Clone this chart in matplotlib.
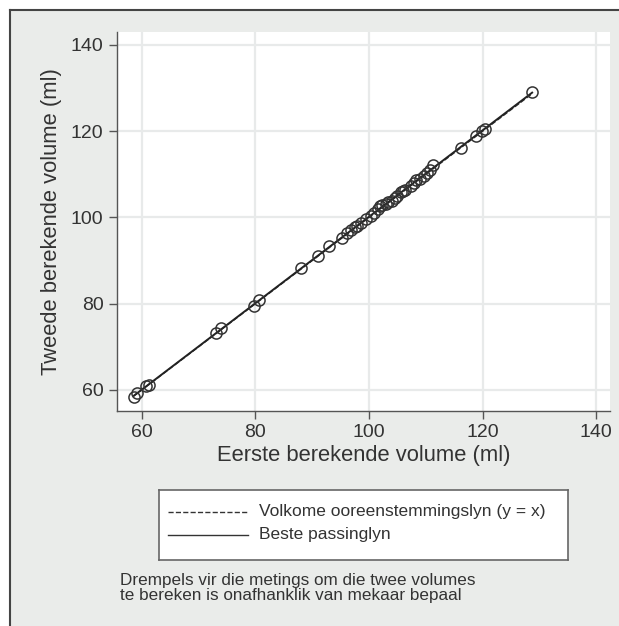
import matplotlib.pyplot as plt
import matplotlib.lines as mlines
import numpy as np

plt.rcParams['font.family'] = ['Liberation Sans', 'DejaVu Sans']

# first and second calculated volume (ml)
vol1 = [58.6, 59.2, 60.8, 61.2, 73.0, 73.9, 79.7, 80.6, 88.1, 91.0, 93.0, 95.3,
        96.2, 96.9, 97.5, 97.8, 98.5, 99.5, 100.3, 100.9, 101.5, 101.9, 102.2, 103.0,
        103.4, 104.1, 104.5, 105.0, 105.6, 106.0, 106.4, 107.4, 107.9, 108.3, 108.9,
        109.6, 110.2, 110.7, 111.3, 116.2, 118.9, 119.8, 120.4, 128.7]
vol2 = [58.4, 59.2, 60.9, 61.1, 73.2, 74.3, 79.5, 80.9, 88.3, 91.1, 93.3, 95.3,
        96.4, 97.1, 97.7, 98.0, 98.8, 99.6, 100.3, 101.0, 102.0, 102.6, 103.0, 103.2,
        103.6, 103.9, 104.6, 105.0, 105.9, 106.1, 106.3, 107.4, 108.0, 108.8, 109.0,
        109.6, 110.3, 110.9, 112.1, 116.1, 118.8, 120.0, 120.4, 129.1]
ticks = [60, 80, 100, 120, 140]

bg = '#eaecea'
dark = '#333333'
fig = plt.figure(figsize=(6.19, 6.26), dpi=100)
fig.patch.set_facecolor('white')

# outer frame (only top and left edges visible)
fig.patches.append(plt.Rectangle((10/619, 0), 1, 616/626, transform=fig.transFigure,
                                 facecolor=bg, edgecolor='none', zorder=-10))
fig.lines.append(mlines.Line2D([10/619, 1], [616/626, 616/626], transform=fig.transFigure,
                               color='#444444', lw=1.5, zorder=-5))
fig.lines.append(mlines.Line2D([10/619, 10/619], [0, 616/626], transform=fig.transFigure,
                               color='#444444', lw=1.5, zorder=-5))

ax = fig.add_axes([116.7/619, 1 - 410.7/626, (610 - 116.7)/619, (410.7 - 32)/626])
ax.set_facecolor('white')

x = np.array(vol1)
y = np.array(vol2)
xr = np.array([x.min(), x.max()])
ax.plot(xr, xr, ls='--', color=dark, lw=1.0, zorder=2)
m, c = np.polyfit(x, y, 1)
ax.plot(xr, m*xr + c, color='#222222', lw=1.4, zorder=3)
ax.plot(x, y, 'o', mfc='none', mec=dark, ms=8, mew=1.1, zorder=4)

ax.set_xlim(55.6, 142.4)
ax.set_ylim(55.2, 143.0)
ax.set_xticks(ticks)
ax.set_yticks(ticks)
ax.grid(True, color='#e8eaea', lw=1.6)
ax.set_axisbelow(True)
for s in ['top', 'right']:
    ax.spines[s].set_visible(False)
for s in ['left', 'bottom']:
    ax.spines[s].set_color('#555555')
    ax.spines[s].set_linewidth(1.0)
ax.tick_params(colors='#555555', length=6, width=1.0, labelsize=14, labelcolor='#333333')
ax.set_xlabel('Eerste berekende volume (ml)', fontsize=15.8, color='#333333', labelpad=3)
ax.set_ylabel('Tweede berekende volume (ml)', fontsize=15.8, color='#333333', labelpad=6)

# legend box
leg_ax = fig.add_axes([159.3/619, 1 - 560/626, (567.7 - 159.3)/619, 70/626])
leg_ax.set_xlim(0, 1)
leg_ax.set_ylim(0, 1)
leg_ax.set_xticks([])
leg_ax.set_yticks([])
for s in leg_ax.spines.values():
    s.set_color('#666666')
    s.set_linewidth(1.2)
leg_ax.plot([0.022, 0.218], [0.69, 0.69], ls='--', color=dark, lw=1.0)
leg_ax.plot([0.022, 0.218], [0.36, 0.36], color=dark, lw=1.0)
leg_ax.text(0.245, 0.69, 'Volkome ooreenstemmingslyn (y = x)', fontsize=12.5,
            color='#333333', va='center')
leg_ax.text(0.245, 0.36, 'Beste passinglyn', fontsize=12.5, color='#333333', va='center')

fig.text(120/619, 1 - 588/626,
         'Drempels vir die metings om die twee volumes\nte bereken is onafhanklik van mekaar bepaal',
         fontsize=12.3, color='#333333', va='center', linespacing=0.95)

fig.savefig('out.png', dpi=100)
